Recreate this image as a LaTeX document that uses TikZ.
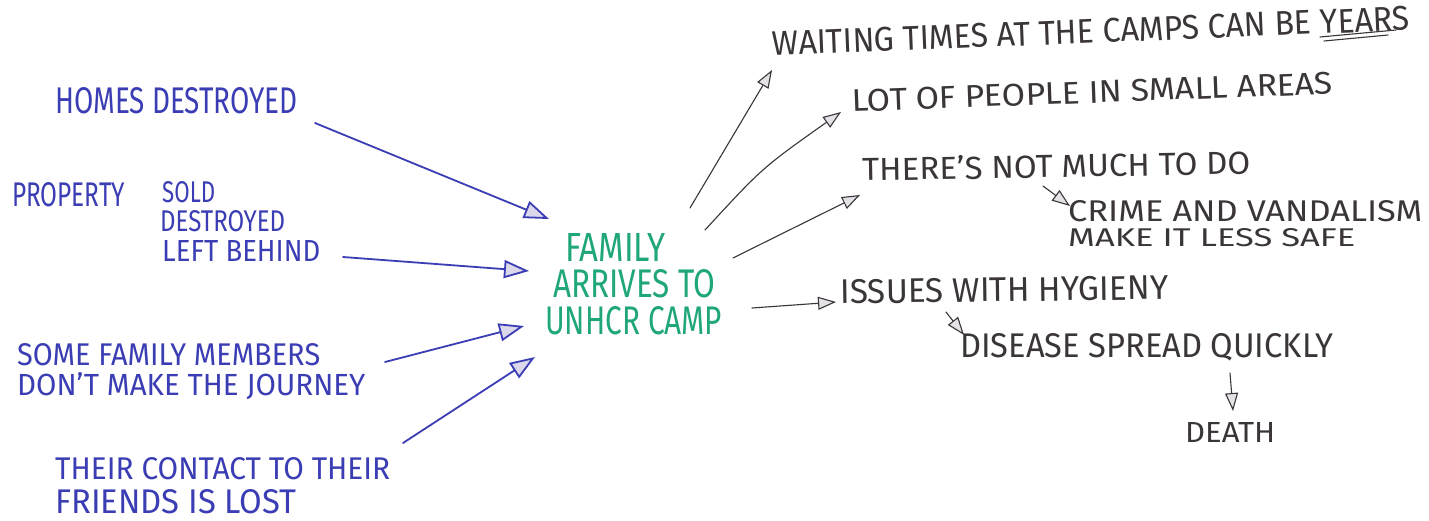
\documentclass[tikz,border=0pt]{standalone}
\usepackage{fontspec}
\setmainfont{Fira Sans}
\usetikzlibrary{arrows.meta}
\definecolor{ink}{HTML}{3B3DB4}
\definecolor{grn}{HTML}{1FA67A}
\definecolor{pen}{HTML}{3A3538}
\definecolor{tipblue}{HTML}{DCD8EC}
\definecolor{tipgray}{HTML}{E4E2E6}
\newcommand{\fitbox}[3]{\resizebox{#1pt}{#2pt}{#3}}
\tikzset{
  lbl/.style={inner sep=0pt, anchor=west},
  bluelbl/.style={lbl, text=ink},
  greenlbl/.style={lbl, text=grn},
  graylbl/.style={lbl, text=pen},
  bluearrow/.style={draw=ink, line width=1.8pt, line cap=round,
    -{Triangle[open, length=25pt, width=18pt, fill=tipblue, line width=1.8pt]}},
  grayarrow/.style={draw=pen, line width=1.1pt, line cap=round,
    -{Triangle[open, length=18pt, width=13pt, fill=tipgray, line width=1.1pt]}}
}
\begin{document}
\begin{tikzpicture}[x=1pt,y=-1pt]
\fill[white] (0,0) rectangle (1429,520);
\useasboundingbox (0,0) rectangle (1429,520);

% left side (blue)
\node[bluelbl] (homes) at (55,101) {\fitbox{242}{26}{HOMES DESTROYED}};
\node[bluelbl] (prop) at (12,195) {\fitbox{113}{24}{PROPERTY}};
\node[bluelbl] (sold) at (162,192) {\fitbox{53}{21}{SOLD}};
\node[bluelbl] (destr) at (160,221) {\fitbox{125}{21}{DESTROYED}};
\node[bluelbl] (left) at (162,251) {\fitbox{158}{21}{LEFT BEHIND}};
\node[bluelbl] (some) at (17,355) {\fitbox{303}{22}{SOME FAMILY MEMBERS}};
\node[bluelbl] (dont) at (17,386) {\fitbox{348}{23}{DON'T MAKE THE JOURNEY}};
\node[bluelbl] (their) at (55,469) {\fitbox{335}{22}{THEIR CONTACT TO THEIR}};
\node[bluelbl] (friends) at (55,502) {\fitbox{241}{24}{FRIENDS IS LOST}};

% centre (green)
\node[greenlbl] (fam) at (565,247) {\fitbox{100}{28}{FAMILY}};
\node[greenlbl] (arr) at (553,284) {\fitbox{162}{28}{ARRIVES TO}};
\node[greenlbl] (camp) at (545,321) {\fitbox{177}{28}{UNHCR CAMP}};

% right side (gray)
\node[graylbl, rotate=2.3] (wait) at (772,44) {\fitbox{638}{24}{WAITING TIMES AT THE CAMPS CAN BE YEARS}};
\node[graylbl, rotate=2.1] (lot) at (852,101) {\fitbox{481}{22}{LOT OF PEOPLE IN SMALL AREAS}};
\node[graylbl, rotate=1] (much) at (862,169) {\fitbox{388}{24}{THERE'S NOT MUCH TO DO}};
\node[graylbl] (crime) at (1068,211) {\fitbox{354}{21}{CRIME AND VANDALISM}};
\node[graylbl] (safe) at (1068,238) {\fitbox{287}{18}{MAKE IT LESS SAFE}};
\node[graylbl, rotate=0.8] (hyg) at (840,292) {\fitbox{328}{24}{ISSUES WITH HYGIENY}};
\node[graylbl] (dis) at (960,347) {\fitbox{373}{24}{DISEASE SPREAD QUICKLY}};
\node[graylbl] (death) at (1185,432) {\fitbox{90}{20}{DEATH}};

% connector end points
\coordinate (a1s) at (315,123); \coordinate (a1e) at (549,219);
\coordinate (a2s) at (343,257); \coordinate (a2e) at (529,271);
\coordinate (a3s) at (385,362); \coordinate (a3e) at (524,326);
\coordinate (a4s) at (403,443); \coordinate (a4e) at (535,357);
\coordinate (b1s) at (690,208); \coordinate (b1e) at (772,70);
\coordinate (b2s) at (705,230); \coordinate (b2e) at (841,112);
\coordinate (b3s) at (733,258); \coordinate (b3e) at (860,195);
\coordinate (b4s) at (752,308); \coordinate (b4e) at (836,302);
\coordinate (b5s) at (1043,186); \coordinate (b5e) at (1070,206);
\coordinate (b6s) at (946,312); \coordinate (b6e) at (964,335);
\coordinate (b7s) at (1230,373); \coordinate (b7e) at (1233,411);

\draw[bluearrow] (a1s) -- (a1e);
\draw[bluearrow] (a2s) -- (a2e);
\draw[bluearrow] (a3s) -- (a3e);
\draw[bluearrow] (a4s) -- (a4e);
\draw[grayarrow] (b1s) -- (b1e);
\draw[grayarrow] (b2s) .. controls (762,168) .. (b2e);
\draw[grayarrow] (b3s) -- (b3e);
\draw[grayarrow] (b4s) -- (b4e);
\draw[grayarrow] (b5s) -- (b5e);
\draw[grayarrow] (b6s) -- (b6e);
\draw[grayarrow] (b7s) -- (b7e);

% underline under YEARS
\coordinate (u1) at (1320,37); \coordinate (u2) at (1396,30);
\coordinate (u3) at (1324,41); \coordinate (u4) at (1388,35);
\draw[pen, line width=1.1pt, line cap=round] (u1) -- (u2);
\draw[pen, line width=1.1pt, line cap=round] (u3) -- (u4);
\end{tikzpicture}
\end{document}
